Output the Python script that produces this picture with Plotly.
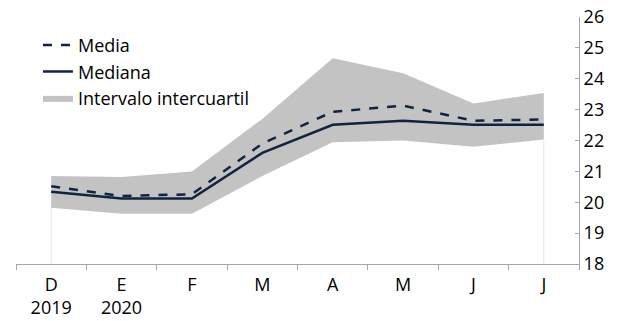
import plotly.graph_objects as go

categories = ["D<br>2019", "E<br>2020", "F", "M", "A", "M", "J", "J"]
media = [20.52, 20.20, 20.26, 21.90, 22.93, 23.13, 22.64, 22.68]
mediana = [20.34, 20.12, 20.12, 21.60, 22.51, 22.64, 22.51, 22.51]
q_low = [19.82, 19.63, 19.63, 20.85, 21.94, 22.00, 21.80, 22.03]
q_high = [20.85, 20.82, 21.00, 22.70, 24.66, 24.18, 23.20, 23.54]
y_ticks = [18, 19, 20, 21, 22, 23, 24, 25, 26]

x = list(range(len(categories)))
boundaries = [i - 0.5 for i in range(len(categories) + 1)]

navy = "#10243f"
band = "#c3c3c3"
axis_grey = "#a6a6a6"
font_family = "'Open Sans', sans-serif"
fs = 18

fig = go.Figure()

# faint drop lines at the ends of the band
for i in (0, len(categories) - 1):
    fig.add_trace(go.Scatter(x=[x[i], x[i]], y=[y_ticks[0], q_low[i]],
                             mode="lines", line=dict(color="#e4e4e4", width=1),
                             showlegend=False, hoverinfo="skip"))

fig.add_trace(go.Scatter(x=x, y=q_low, mode="lines", line=dict(width=0, color=band),
                         showlegend=False, hoverinfo="skip"))
fig.add_trace(go.Scatter(x=x, y=q_high, mode="lines", line=dict(width=0, color=band),
                         fill="tonexty", fillcolor=band, name="Intervalo intercuartil", legendrank=3))
fig.add_trace(go.Scatter(x=x, y=mediana, mode="lines", line=dict(color=navy, width=2.5),
                         name="Mediana", legendrank=2))
fig.add_trace(go.Scatter(x=x, y=media, mode="lines", line=dict(color=navy, width=2.5, dash="dash"),
                         name="Media", legendrank=1))

fig.update_layout(
    width=628, height=313,
    margin=dict(l=8, r=57, t=9, b=57, autoexpand=False),
    paper_bgcolor="white", plot_bgcolor="white",
    font=dict(family=font_family, size=fs, color="#000000"),
    legend=dict(x=0.039, y=0.96, xanchor="left", yanchor="top", bgcolor="rgba(0,0,0,0)",
                font=dict(size=fs), tracegroupgap=0, itemwidth=30, traceorder="normal"),
    showlegend=True,
)
fig.update_xaxes(range=[-0.5, 7.5], showline=True, linecolor=axis_grey, linewidth=1,
                 tickvals=x, ticktext=categories, ticks="", showgrid=False, zeroline=False,
                 tickfont=dict(size=fs), ticklabelstandoff=4, automargin=False,
                 minor=dict(tickvals=boundaries, ticks="outside", ticklen=5, tickcolor=axis_grey,
                            showgrid=False))
fig.update_yaxes(side="right", range=[18, 26], tickvals=y_ticks, showline=True, linecolor=axis_grey,
                 linewidth=1, ticks="inside", ticklen=4, tickcolor=axis_grey, showgrid=False,
                 zeroline=False, tickfont=dict(size=fs), automargin=False, ticklabeloverflow="allow")

fig.write_html("out.html")
